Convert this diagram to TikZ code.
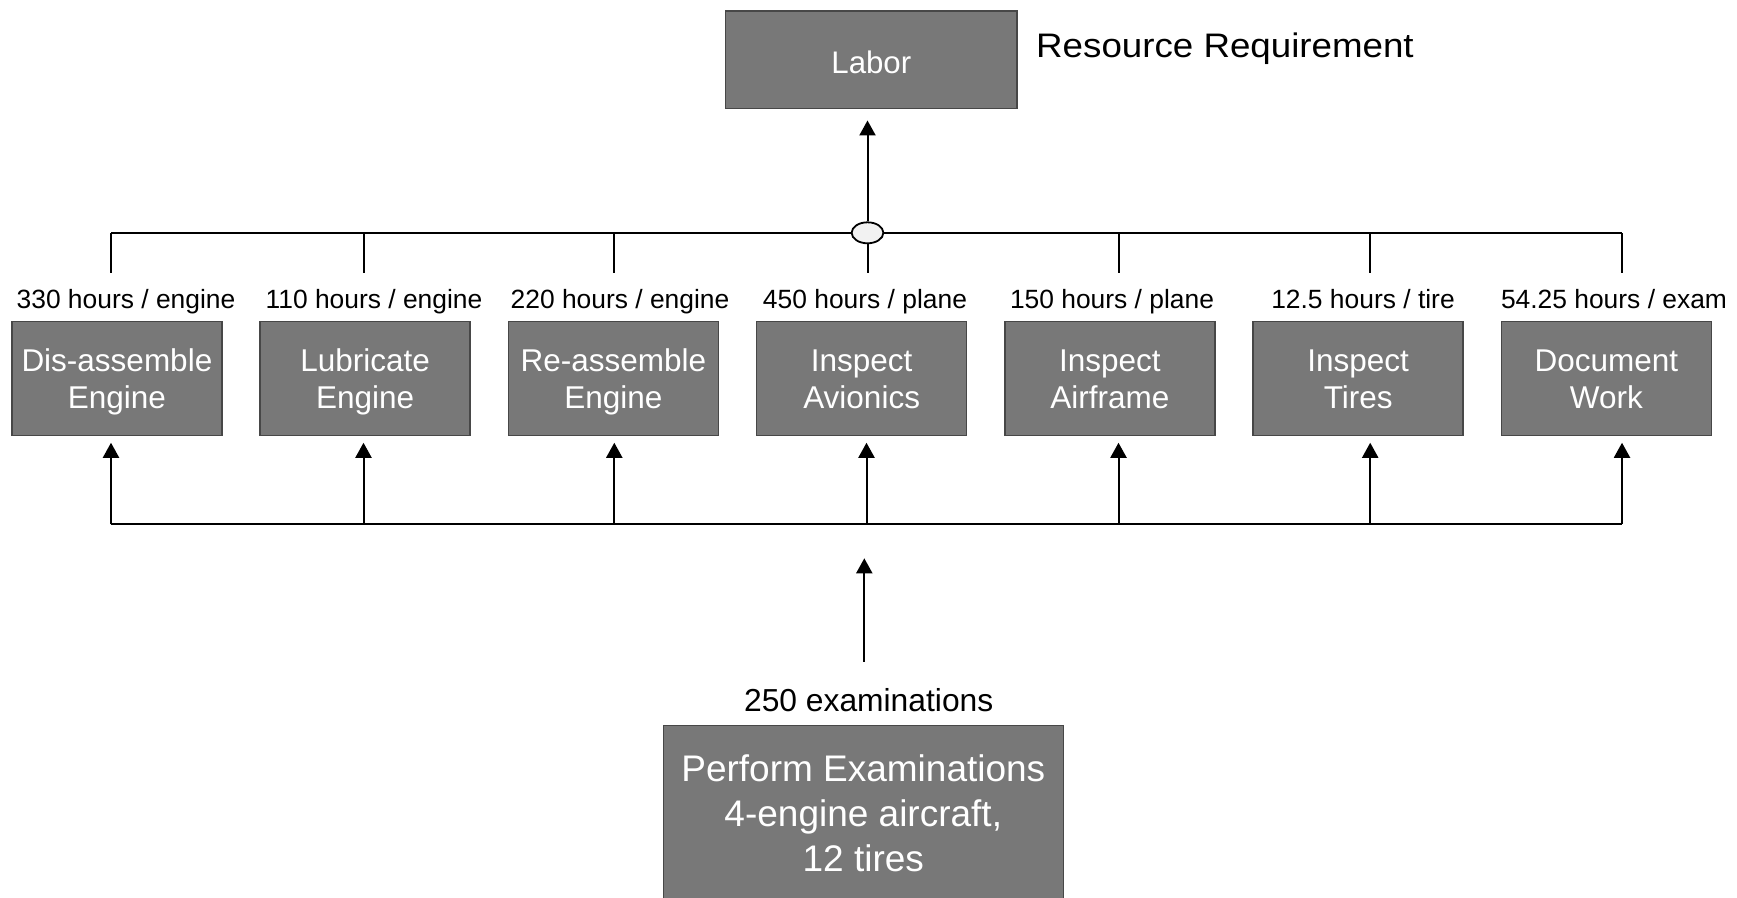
\documentclass[tikz,border=0pt]{standalone}
\usepackage{fontspec}
\setmainfont{Liberation Sans}
\newfontfamily\widesans[FakeStretch=1.08]{Liberation Sans}
\usetikzlibrary{arrows.meta,shapes.geometric}
\tikzset{>/.tip={Triangle[width=16pt,length=15pt]},
  task/.style={draw=black!72, fill=black!53, line width=1.5pt, text=white, align=center, inner sep=0pt},
  small/.style={task, minimum width=210pt, minimum height=114pt, text height=59.7pt, text depth=0.3pt, font=\fontsize{31.5}{36.7}\selectfont},
  rate/.style={anchor=base, inner sep=0pt, font=\fontsize{26.4}{30}\selectfont},
  wire/.style={line width=2pt}}

\begin{document}
\begin{tikzpicture}[x=1pt, y=-1pt]
 \clip (0,0) rectangle (1737,897);

 % resource
 \node[task, minimum width=291.7pt, minimum height=97.6pt, text height=26.8pt, text depth=0pt, font=\fontsize{31.2}{38}\selectfont] (labor) at (871.3, 59.9) {Labor};
 \node[anchor=base west, inner sep=0pt, font=\widesans\fontsize{34}{40}\selectfont] (res) at (1036, 57.3) {Resource Requirement};

 % activities
 \node[small] (disasm) at (116.9, 378.7)  {Dis-assemble\\Engine};
 \node[small] (lube)   at (365.15, 378.7) {Lubricate\\Engine};
 \node[small] (reasm)  at (613.4, 378.7)  {Re-assemble\\Engine};
 \node[small] (avion)  at (861.65, 378.7) {Inspect\\Avionics};
 \node[small] (frame)  at (1109.9, 378.7) {Inspect\\Airframe};
 \node[small] (tires)  at (1358.15, 378.7) {Inspect\\Tires};
 \node[small] (doc)    at (1606.4, 378.7) {Document\\Work};

 % rates
 \node[rate] (r1) at (126, 308.3)  {330 hours / engine};
 \node[rate] (r2) at (374, 308.3)  {110 hours / engine};
 \node[rate] (r3) at (620, 308.3)  {220 hours / engine};
 \node[rate] (r4) at (865, 308.3)  {450 hours / plane};
 \node[rate] (r5) at (1112, 308.3) {150 hours / plane};
 \node[rate] (r6) at (1363, 308.3) {12.5 hours / tire};
 \node[rate] (r7) at (1614, 308.3) {54.25 hours / exam};

 % upper bus
 \coordinate (t1) at (111, 233.3);
 \coordinate (t2) at (363.5, 233.3);
 \coordinate (t3) at (614.3, 233.3);
 \coordinate (t5) at (1118.5, 233.3);
 \coordinate (t6) at (1370.2, 233.3);
 \coordinate (t7) at (1622, 233.3);
 \draw[wire] (t1) -- (t7);
 \node[ellipse, draw, fill=black!5, line width=1.8pt, minimum width=31.7pt, minimum height=21pt, inner sep=0pt] (join) at (867.5, 232.8) {};

 \draw[wire, ->, shorten >=11pt] (join) -- (join |- labor.south);
 \draw[wire, shorten >=15.8pt] (t1) -- (t1 |- r1.north);
 \draw[wire, shorten >=15.8pt] (t2) -- (t2 |- r2.north);
 \draw[wire, shorten >=15.8pt] (t3) -- (t3 |- r3.north);
 \draw[wire, shorten >=15.8pt] (join) -- (join |- r4.north);
 \draw[wire, shorten >=15.8pt] (t5) -- (t5 |- r5.north);
 \draw[wire, shorten >=15.8pt] (t6) -- (t6 |- r6.north);
 \draw[wire, shorten >=15.8pt] (t7) -- (t7 |- r7.north);

 % lower bus
 \coordinate (b1) at (111, 524.3);
 \coordinate (b2) at (363.5, 524.3);
 \coordinate (b3) at (614.3, 524.3);
 \coordinate (b4) at (866.5, 524.3);
 \coordinate (b5) at (1118.5, 524.3);
 \coordinate (b6) at (1370.2, 524.3);
 \coordinate (b7) at (1622, 524.3);
 \draw[wire] (b1) -- (b7);
 \draw[wire, ->, shorten >=6.3pt] (b1) -- (b1 |- disasm.south);
 \draw[wire, ->, shorten >=6.3pt] (b2) -- (b2 |- lube.south);
 \draw[wire, ->, shorten >=6.3pt] (b3) -- (b3 |- reasm.south);
 \draw[wire, ->, shorten >=6.3pt] (b4) -- (b4 |- avion.south);
 \draw[wire, ->, shorten >=6.3pt] (b5) -- (b5 |- frame.south);
 \draw[wire, ->, shorten >=6.3pt] (b6) -- (b6 |- tires.south);
 \draw[wire, ->, shorten >=6.3pt] (b7) -- (b7 |- doc.south);

 % examinations
 \node[rate, font=\fontsize{31.8}{38}\selectfont] (cnt) at (868.7, 711.7) {250 examinations};
 \node[task, minimum width=400pt, minimum height=175pt, font=\fontsize{37}{45}\selectfont] (exam) at (863.3, 813.2) {Perform Examinations\\4-engine aircraft,\\12 tires};
 \coordinate (hub) at (864.3, 558.3);
 \draw[wire, ->, shorten <=26.6pt] (hub |- cnt.north) -- (hub);
\end{tikzpicture}
\end{document}
